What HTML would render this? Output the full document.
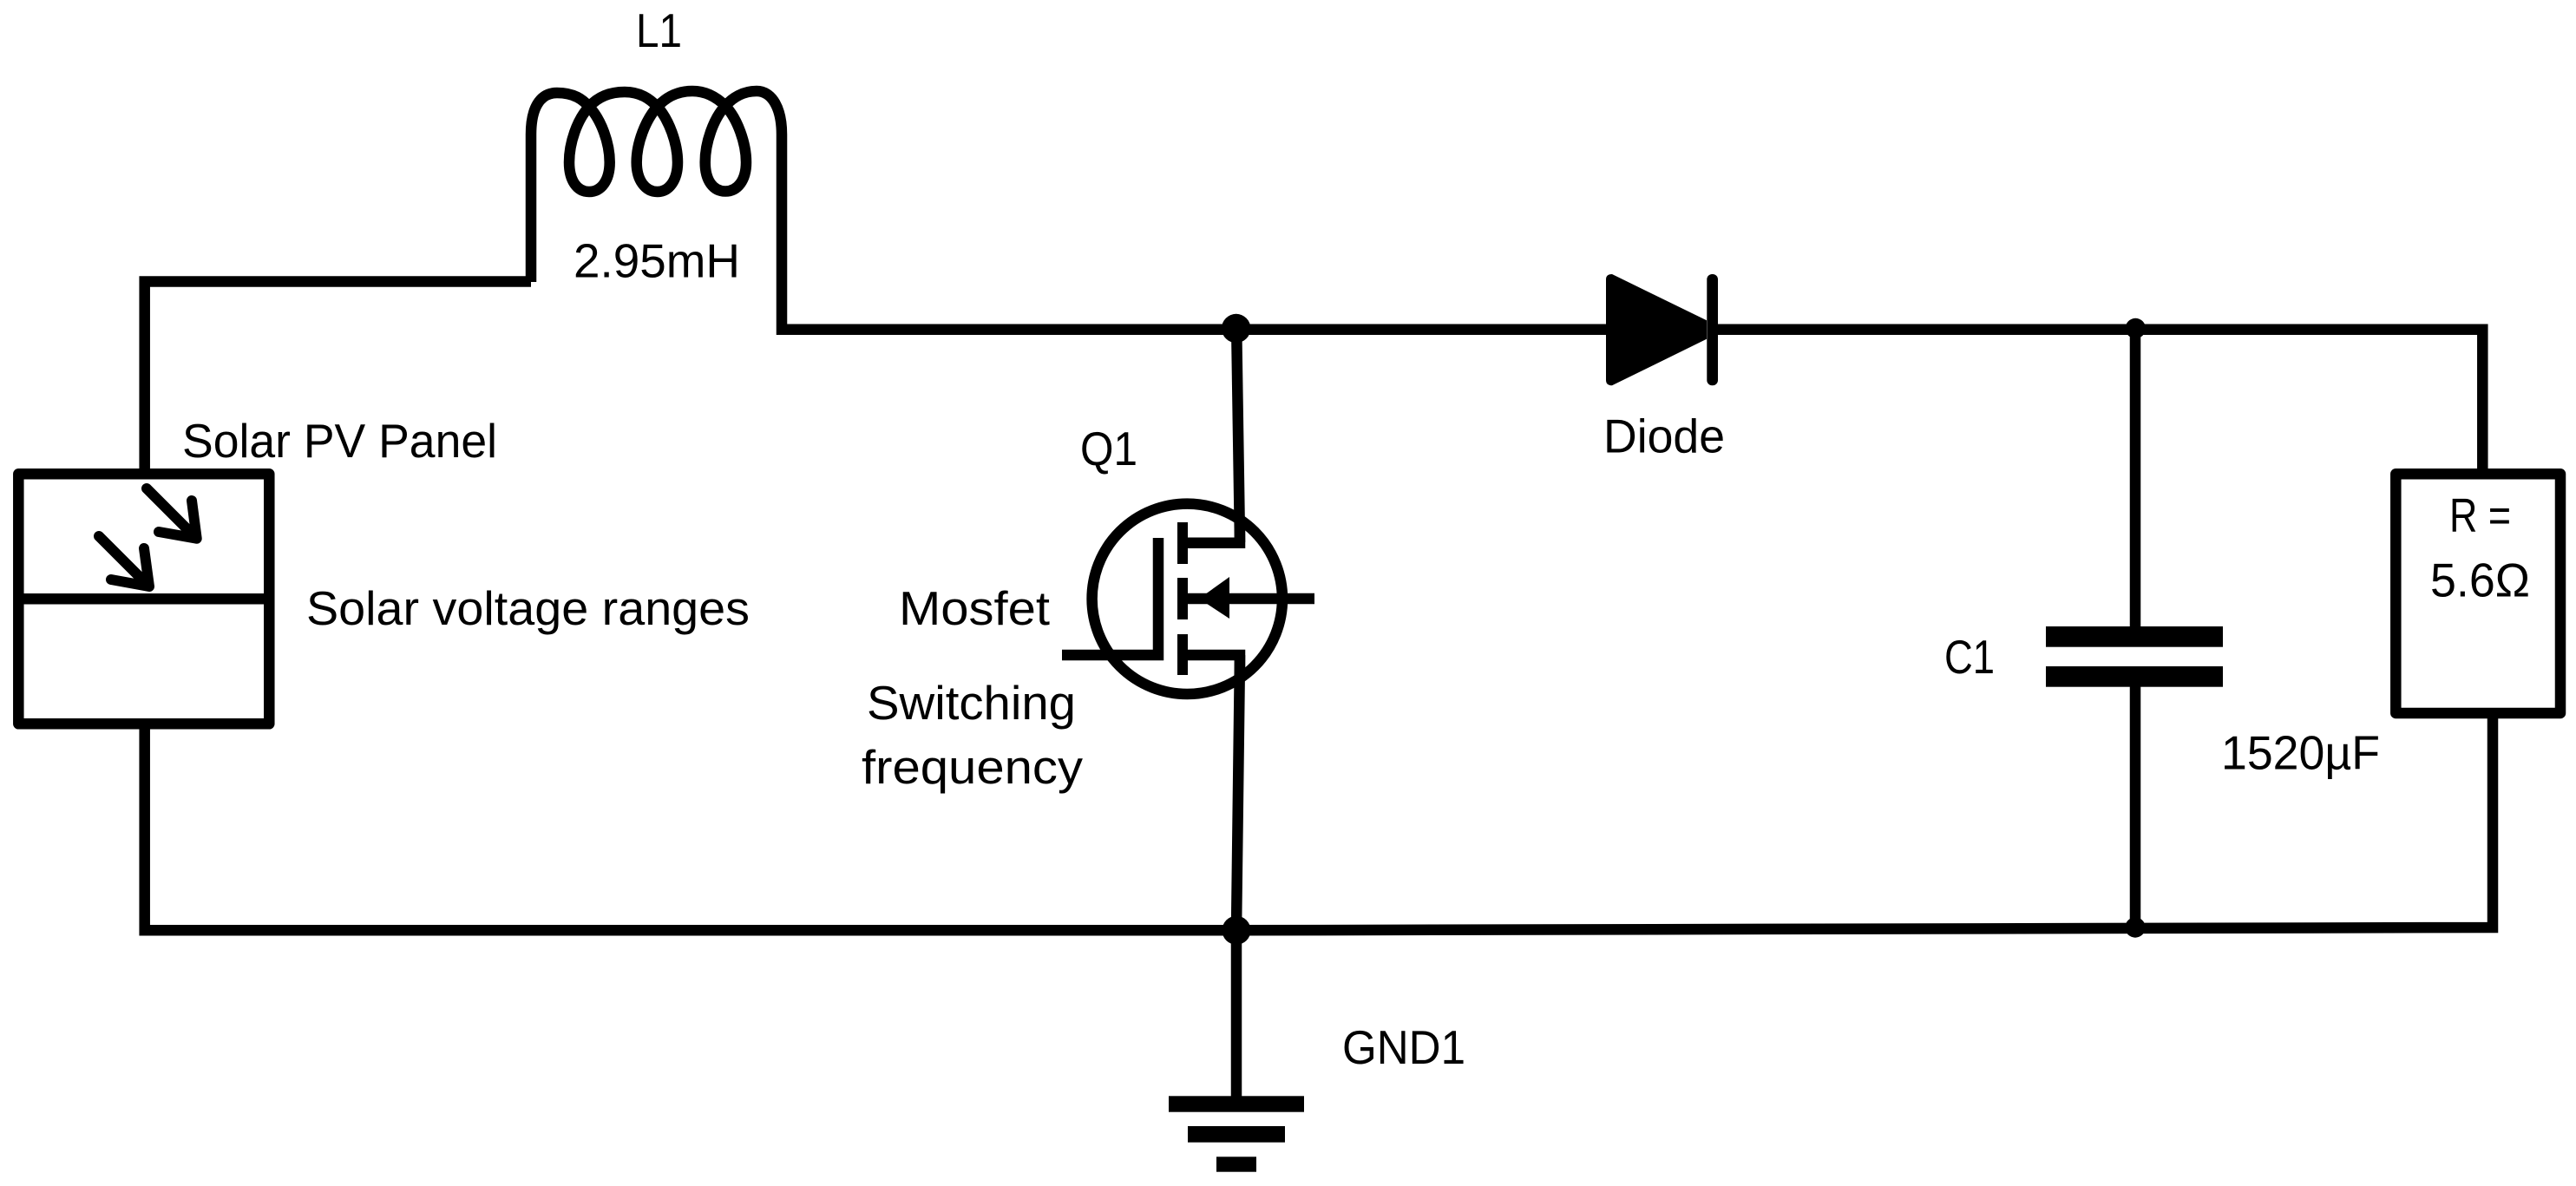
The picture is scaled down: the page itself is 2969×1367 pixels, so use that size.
<!DOCTYPE html>
<html lang="en">
<head>
<meta charset="utf-8">
<title>Boost converter circuit</title>
<style>
html,body{margin:0;padding:0;background:#fff;width:2969px;height:1367px;overflow:hidden}
svg{display:block}
text{font-family:"Liberation Sans",sans-serif;font-size:55px;fill:#000}
</style>
</head>
<body>
<svg xmlns="http://www.w3.org/2000/svg" width="2969" height="1367" viewBox="0 0 2969 1367">
<rect width="2969" height="1367" fill="#fff"/>

<g fill="none" stroke="#000" stroke-width="12.5">
  <!-- wires -->
  <path d="M612 324.5H166.7V546"/>
  <path d="M166.7 834V1072.3H1425"/>
  <path d="M1425 1072.3L2873 1069V822"/>
  <path d="M1975 379.8H2861.3V546"/>
  <path d="M1425.2 379L1429 625"/>
  <path d="M1429 755L1425 1072V1265"/>
  <path d="M2461 379V728M2461 786V1069"/>

  <!-- coil and its lead to the diode -->
  <path d="M612 325V155C612 125 622 107 642 107C662 107 672 115 679 123C693 138 702.7 165 702.7 187C702.7 208 693 221 679 221C665 221 656 208 656 187C656 165 665 138 679 123C687 114 700 106 720 106C738 106 749 114 757.7 123C771 138 781 165 781 187C781 208 771 221 757.7 221C744 221 733.7 208 733.7 187C733.7 165 744 138 757.7 123C766 114 778 105 798 105C816 105 828 114 836 122C850 137 860 165 860 187C860 208 850 220.5 836 220.5C822 220.5 812.7 208 812.7 187C812.7 165 822 137 836 122C844 113 856 105 872 105C890 105 901 125 901 155V379.8H1855"/>

  <!-- solar panel -->
  <rect x="21.3" y="546.3" width="289" height="288" stroke-linejoin="round"/>
  <path d="M21.3 690.3H310.3"/>
  <g stroke-width="12" stroke-linecap="round" stroke-linejoin="round">
    <path d="M169 563L226.7 620.7M221 577L226.7 620.7L183 613"/>
    <path d="M114 618L172 676M166 632L172 676L128 668"/>
  </g>

  <!-- MOSFET -->
  <circle cx="1368.3" cy="690.3" r="109.7"/>
  <path d="M1224 755H1335V620"/>
  <path d="M1369 625.7H1429V600"/>
  <path d="M1369 755H1429V775"/>
  <path d="M1369 690H1515"/>

  <!-- resistor -->
  <rect x="2761.3" y="546.3" width="189.7" height="275.7" stroke-linejoin="round"/>
</g>

<g fill="#000">
  <!-- MOSFET bars and arrow -->
  <rect x="1357" y="602" width="12" height="48"/>
  <rect x="1357" y="666" width="12" height="48"/>
  <rect x="1357" y="731" width="12" height="47"/>
  <path d="M1382 690L1417 665V713Z"/>

  <!-- diode -->
  <path d="M1851 322Q1851 316 1858 316L1967 369.3V390.7L1858 444.3Q1851 444.3 1851 438Z"/>
  <rect x="1967.3" y="316" width="12.7" height="128.3" rx="6"/>

  <!-- capacitor -->
  <rect x="2358" y="722" width="204" height="23.7"/>
  <rect x="2358" y="768" width="204" height="23.7"/>

  <!-- ground -->
  <rect x="1347" y="1263.3" width="156" height="18.4"/>
  <rect x="1369" y="1298" width="112" height="18.7"/>
  <rect x="1402" y="1333.3" width="46" height="17.4"/>

  <!-- junctions -->
  <circle cx="1424.7" cy="378.5" r="16.7"/>
  <circle cx="1425" cy="1072.3" r="16.5"/>
  <circle cx="2461.3" cy="378.5" r="11.7"/>
  <circle cx="2461" cy="1069" r="11.7"/>
</g>

<g>
  <text x="733" y="54" textLength="53" lengthAdjust="spacingAndGlyphs">L1</text>
  <text x="661" y="319.5" textLength="192" lengthAdjust="spacingAndGlyphs">2.95mH</text>
  <text x="210" y="527" textLength="363" lengthAdjust="spacingAndGlyphs">Solar PV Panel</text>
  <text x="353" y="720" textLength="511" lengthAdjust="spacingAndGlyphs">Solar voltage ranges</text>
  <text x="1245" y="536" textLength="66" lengthAdjust="spacingAndGlyphs">Q1</text>
  <text x="1036" y="720" textLength="174" lengthAdjust="spacingAndGlyphs">Mosfet</text>
  <text x="999" y="829" textLength="241" lengthAdjust="spacingAndGlyphs">Switching</text>
  <text x="993" y="903" textLength="255" lengthAdjust="spacingAndGlyphs">frequency</text>
  <text x="1547" y="1226" textLength="142" lengthAdjust="spacingAndGlyphs">GND1</text>
  <text x="1848" y="521.5" textLength="140" lengthAdjust="spacingAndGlyphs">Diode</text>
  <text x="2823" y="612.5" textLength="71" lengthAdjust="spacingAndGlyphs">R =</text>
  <text x="2801" y="687.5" textLength="115" lengthAdjust="spacingAndGlyphs">5.6Ω</text>
  <text x="2241" y="776" textLength="58" lengthAdjust="spacingAndGlyphs">C1</text>
  <text x="2560" y="886.5" textLength="183" lengthAdjust="spacingAndGlyphs">1520µF</text>
</g>
</svg>
</body>
</html>
